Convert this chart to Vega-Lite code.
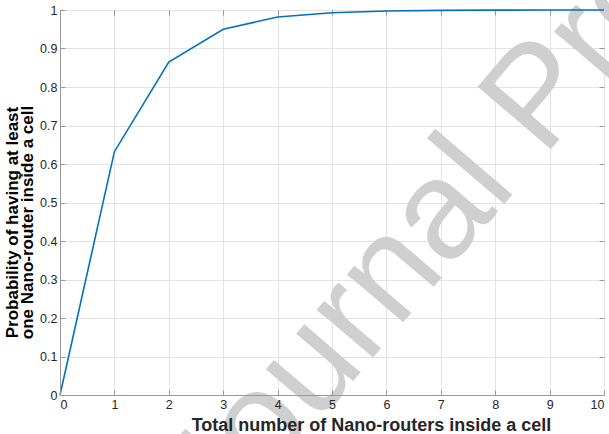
{
  "$schema": "https://vega.github.io/schema/vega-lite/v6.json",
  "autosize": {"type": "none"},
  "width": 544,
  "height": 385,
  "padding": {"left": 60, "top": 10, "right": 5, "bottom": 39},
  "background": "white",
  "config": {
    "view": {"stroke": "#999999", "strokeWidth": 1},
    "axis": {
      "domainColor": "#999999",
      "tickColor": "#999999",
      "gridColor": "#e3e3e3",
      "labelFont": "Liberation Sans Narrow, Liberation Sans",
      "labelFontSize": 12.5,
      "labelColor": "#262626",
      "tickSize": -5
    }
  },
  "datasets": {
    "curve": [
      {"n": 0, "p": 0.0},
      {"n": 1, "p": 0.632},
      {"n": 2, "p": 0.865},
      {"n": 3, "p": 0.95},
      {"n": 4, "p": 0.982},
      {"n": 5, "p": 0.993},
      {"n": 6, "p": 0.9975},
      {"n": 7, "p": 0.999},
      {"n": 8, "p": 0.9997},
      {"n": 9, "p": 0.9999},
      {"n": 10, "p": 1.0}
    ],
    "mark": [
      {"wx": 9.4, "wy": 0.7, "t": "Journal Pre-proof"}
    ]
  },
  "layer": [
    {
      "data": {"name": "curve"},
      "mark": {"type": "line", "opacity": 0},
      "encoding": {
        "x": {"field": "n", "type": "quantitative", "scale": {"domain": [0, 10], "nice": false}, "axis": {"zindex": 0, "orient": "top", "grid": true, "values": [0,1,2,3,4,5,6,7,8,9,10], "labels": false, "domain": false, "title": null}},
        "y": {"field": "p", "type": "quantitative", "scale": {"domain": [0, 1], "nice": false}, "axis": {"zindex": 0, "orient": "right", "grid": true, "values": [0,0.1,0.2,0.3,0.4,0.5,0.6,0.7,0.8,0.9,1], "labels": false, "domain": false, "title": null}}
      }
    },
    {
      "data": {"name": "mark"},
      "mark": {"type": "text", "font": "Liberation Sans", "fontSize": 140, "color": "#cfcfcf", "angle": -49.5, "align": "center", "baseline": "alphabetic"},
      "encoding": {
        "x": {"field": "wx", "type": "quantitative", "axis": null},
        "y": {"field": "wy", "type": "quantitative", "axis": null},
        "text": {"field": "t"}
      }
    },
    {
      "data": {"name": "curve"},
      "mark": {"type": "line", "color": "#0072BD", "strokeWidth": 1.6},
      "encoding": {
        "x": {
          "field": "n", "type": "quantitative",
          "axis": {
            "orient": "bottom",
            "zindex": 2,
            "grid": false,
            "values": [0,1,2,3,4,5,6,7,8,9,10],
            "labelPadding": 8,
            "title": "Total number of Nano-routers inside a cell",
            "titleFont": "Liberation Sans Narrow, Liberation Sans",
            "titleFontWeight": "bold",
            "titleFontSize": 18,
            "titleColor": "#262626",
            "titleX": 311,
            "titleY": 35,
            "titleBaseline": "alphabetic"
          }
        },
        "y": {
          "field": "p", "type": "quantitative",
          "axis": {
            "orient": "left",
            "zindex": 2,
            "grid": false,
            "values": [0,0.1,0.2,0.3,0.4,0.5,0.6,0.7,0.8,0.9,1],
            "format": "~g",
            "labelPadding": 8,
            "title": ["Probability of having at least", "one Nano-router inside a cell"],
            "titleFont": "Liberation Sans",
            "titleFontWeight": "bold",
            "titleFontSize": 17,
            "titleColor": "#000000",
            "titleLineHeight": 15,
            "titleY": 212,
            "titlePadding": 3
          }
        }
      }
    }
  ],
  "resolve": {"axis": {"x": "independent", "y": "independent"}}
}
